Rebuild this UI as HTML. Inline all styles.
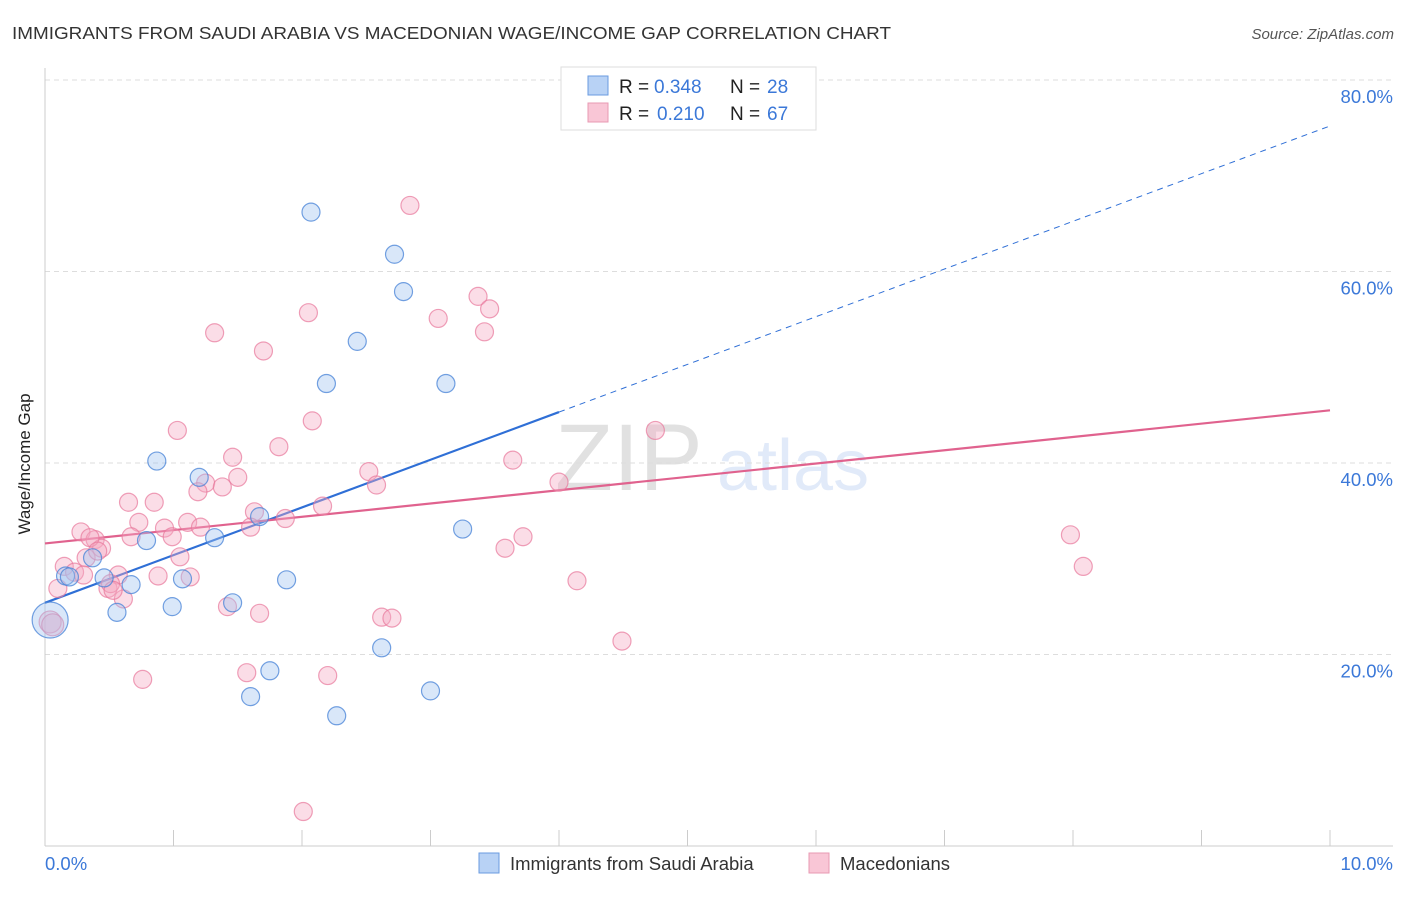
<!DOCTYPE html>
<html><head><meta charset="utf-8"><style>
body{margin:0;background:#fff;font-family:"Liberation Sans",sans-serif;}
svg text{font-family:"Liberation Sans",sans-serif;}
</style></head><body>
<svg width="1406" height="892" xmlns="http://www.w3.org/2000/svg">
<text x="12" y="39" font-size="17.5" fill="#333" textLength="879" lengthAdjust="spacingAndGlyphs">IMMIGRANTS FROM SAUDI ARABIA VS MACEDONIAN WAGE/INCOME GAP CORRELATION CHART</text>
<text x="1394" y="39" font-size="15" fill="#555" font-style="italic" text-anchor="end">Source: ZipAtlas.com</text>
<g>
<text x="555" y="490" font-size="95" font-family="Liberation Serif,serif" fill="#222" opacity="0.13">ZIP</text>
<text x="717" y="490" font-size="72" fill="#3b78d8" opacity="0.15">atlas</text>
</g>
<g id="grid"></g>
<g id="axes"></g>
<g id="trend"></g>
<g id="pts"></g>
<text x="22" y="456" font-size="17" fill="#222" text-anchor="middle" transform="rotate(-90 30 456)">Wage/Income Gap</text>
<g>
<rect x="561" y="67" width="255" height="63" fill="#fff" stroke="#ddd"/>
<rect x="588" y="76" width="20" height="19" fill="#b8d2f5" stroke="#6a9be0"/>
<rect x="588" y="103" width="20" height="19" fill="#f9c6d6" stroke="#e89ab3"/>
<text x="619" y="93" font-size="19" fill="#222">R =</text>
<text x="654" y="93" font-size="19" fill="#3b78d8">0.348</text>
<text x="730" y="93" font-size="19" fill="#222">N =</text>
<text x="767" y="93" font-size="19" fill="#3b78d8">28</text>
<text x="619" y="120" font-size="19" fill="#222">R =</text>
<text x="657" y="120" font-size="19" fill="#3b78d8">0.210</text>
<text x="730" y="120" font-size="19" fill="#222">N =</text>
<text x="767" y="120" font-size="19" fill="#3b78d8">67</text>
</g>
<g>
<rect x="479" y="853" width="20" height="20" fill="#b8d2f5" stroke="#6a9be0"/>
<text x="510" y="870" font-size="18.5" fill="#333">Immigrants from Saudi Arabia</text>
<rect x="809" y="853" width="20" height="20" fill="#f9c6d6" stroke="#e89ab3"/>
<text x="840" y="870" font-size="18.5" fill="#333">Macedonians</text>
</g>
</svg>
<script>
const yTicks=[20,40,60,80];
const xTickLabels=["0.0%","10.0%"];
const blueX=[2.07,2.72,2.79,2.43,2.19,3.12,0.87,1.20,1.67,1.32,0.79,3.25,0.37,0.16,0.46,0.67,1.07,1.88,0.56,0.99,1.46,2.62,1.75,1.60,2.27,3.00,0.04,0.19];
const blueY=[66.2,61.8,57.9,52.7,48.3,48.3,40.2,38.5,34.4,32.2,31.9,33.1,30.1,28.2,28.0,27.3,27.9,27.8,24.4,25.0,25.4,20.7,18.3,15.6,13.6,16.2,23.6,28.1];
const blueR=[9,9,9,9,9,9,9,9,9,9,9,9,9,9,9,9,9,9,9,9,9,9,9,9,9,9,18,9];
const pinkX=[2.84,3.37,3.46,2.05,3.06,3.42,1.32,1.70,2.08,1.03,1.82,1.46,3.64,2.52,2.58,4.00,4.75,1.50,0.65,0.85,1.25,1.38,1.19,1.63,0.73,0.93,1.11,1.21,0.28,0.39,0.67,0.99,1.60,1.87,2.16,0.44,0.35,0.15,0.23,0.32,0.10,0.57,0.88,1.05,1.13,0.49,0.61,0.51,1.42,1.67,2.62,2.70,3.58,3.72,4.14,4.49,1.57,2.20,0.76,2.01,7.98,8.08,0.04,0.06,0.41,0.30,0.53];
const pinkY=[66.9,57.4,56.1,55.7,55.1,53.7,53.6,51.7,44.4,43.4,41.7,40.6,40.3,39.1,37.7,38.0,43.4,38.5,35.9,35.9,37.9,37.5,37.0,34.9,33.8,33.2,33.8,33.3,32.8,32.0,32.3,32.3,33.3,34.2,35.5,31.1,32.2,29.2,28.6,30.1,26.9,28.3,28.2,30.2,28.1,26.9,25.8,27.4,25.0,24.3,23.9,23.8,31.1,32.3,27.7,21.4,18.1,17.8,17.4,3.6,32.5,29.2,23.4,23.1,30.8,28.3,26.7];
const blueTrend=[25.4,75.2];
const pinkTrend=[31.6,45.5];
const NS="http://www.w3.org/2000/svg";
const sx=v=>45+v*128.5, sy=v=>846-v*9.575;
function mk(t,a,p){const e=document.createElementNS(NS,t);for(const k in a)e.setAttribute(k,a[k]);p.appendChild(e);return e;}
const grid=document.getElementById('grid'),axes=document.getElementById('axes');
yTicks.forEach(t=>{
 const l=mk('line',{x1:45,x2:1393,y1:sy(t),y2:sy(t),stroke:'#ddd','stroke-dasharray':'5,4'},grid);
 
 
 const tx=mk('text',{x:1393,y:sy(t)+23,'font-size':18.5,fill:'#3b78d8','text-anchor':'end'},axes);
 tx.textContent=t.toFixed(1)+'%';
 
 
});
mk('line',{x1:45,x2:45,y1:68,y2:846,stroke:'#ccc'},axes);
mk('line',{x1:45,x2:1393,y1:846,y2:846,stroke:'#ccc'},axes);
for(let i=0;i<=10;i++){const l=mk('line',{x1:sx(i),x2:sx(i),y1:830,y2:846,stroke:'#ccc'},axes);
 
 }
const x0=mk('text',{x:45,y:870,'font-size':18.5,fill:'#3b78d8'},axes);x0.textContent=xTickLabels[0];


const x1=mk('text',{x:1393,y:870,'font-size':18.5,fill:'#3b78d8','text-anchor':'end'},axes);x1.textContent=xTickLabels[1];


const pts=document.getElementById('pts');
pinkX.forEach((x,i)=>{const c=mk('circle',{cx:sx(x),cy:sy(pinkY[i]),r:(i>=62&&i<=63)?11:9,fill:'rgba(246,170,195,0.4)',stroke:'rgba(232,120,155,0.7)','stroke-width':1.2},pts);
 
 });
blueX.forEach((x,i)=>{const c=mk('circle',{cx:sx(x),cy:sy(blueY[i]),r:blueR[i],fill:'rgba(160,196,240,0.4)',stroke:'rgba(70,130,215,0.75)','stroke-width':1.2},pts);
 
 });
const tr=document.getElementById('trend');
const bm=blueTrend[0]+(blueTrend[1]-blueTrend[0])*0.4;
const b1=mk('line',{x1:sx(0),y1:sy(blueTrend[0]),x2:sx(4),y2:sy(bm),stroke:'#2f6fd6','stroke-width':2.2},tr);


const b2=mk('line',{x1:sx(4),y1:sy(bm),x2:sx(10),y2:sy(blueTrend[1]),stroke:'#2f6fd6','stroke-width':1,'stroke-dasharray':'6,5'},tr);


const p1=mk('line',{x1:sx(0),y1:sy(pinkTrend[0]),x2:sx(10),y2:sy(pinkTrend[1]),stroke:'#e0628e','stroke-width':2.2},tr);


</script>
</body></html>
